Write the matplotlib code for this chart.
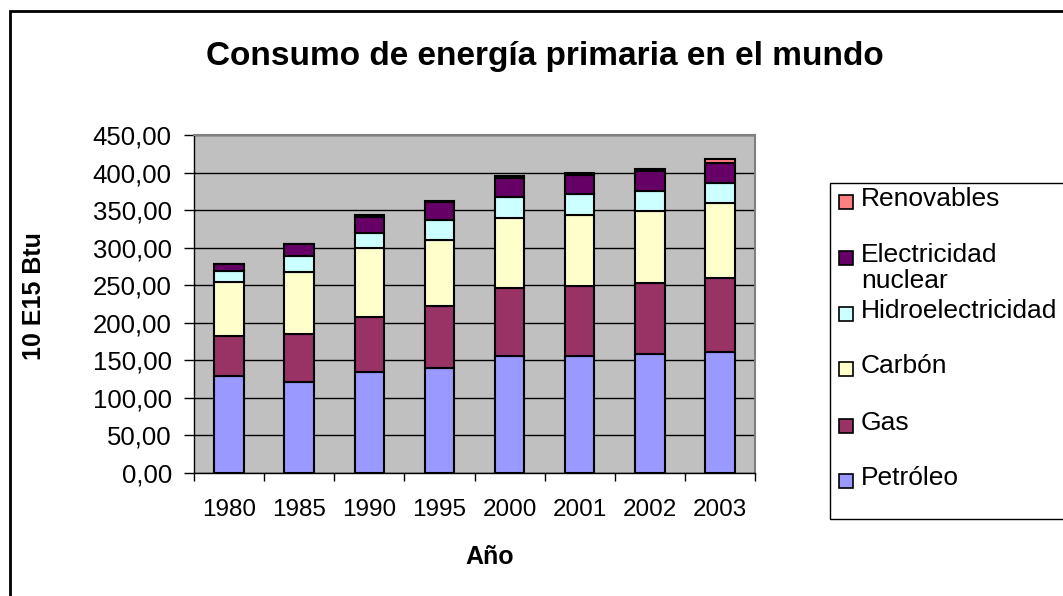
import matplotlib
matplotlib.use("Agg")
import matplotlib.pyplot as plt
from matplotlib.patches import Rectangle
import numpy as np

plt.rcParams['font.family'] = ['Liberation Sans', 'DejaVu Sans']

# Datos (10 E15 Btu)
years = ['1980', '1985', '1990', '1995', '2000', '2001', '2002', '2003']
petroleo = [129, 121, 134, 140, 156, 156, 158, 161.5]
gas = [54, 64, 74, 83, 90, 93, 95, 98]
carbon = [71, 82, 91, 87, 93, 95, 96, 100.5]
hidro = [15.5, 22, 21, 26.5, 28, 27, 26.5, 26.5]
nuclear = [8.5, 15.5, 21, 24, 26, 26, 26.5, 26.5]
renovables = [0.5, 0.5, 2.5, 1, 2, 3, 3, 5.5]

series = [petroleo, gas, carbon, hidro, nuclear, renovables]
names = ['Petróleo', 'Gas', 'Carbón', 'Hidroelectricidad',
         'Electricidad\nnuclear', 'Renovables']
colors = ['#9999FF', '#993366', '#FFFFCC', '#CCFFFF', '#660066', '#FF8080']

W, H = 1063, 596
fig = plt.figure(figsize=(W / 100, H / 100), dpi=100)
ax = fig.add_axes([194 / W, 1 - 473 / H, (755 - 194) / W, (473 - 135) / H])
ax.set_facecolor('#C0C0C0')

x = np.arange(len(years))
bottom = np.zeros(len(years))
for vals, c in zip(series, colors):
    ax.bar(x, vals, 0.42, bottom=bottom, color=c, edgecolor='black',
           linewidth=1.5, zorder=3)
    bottom += np.array(vals)

ax.set_ylim(0, 450)
ax.set_xlim(-0.5, len(years) - 0.5)
yt = np.arange(0, 451, 50)
ax.set_yticks(yt)
ax.set_yticklabels([f"{v:.2f}".replace('.', ',') for v in yt], fontsize=18.5)
ax.yaxis.grid(True, color='black', linewidth=1, zorder=1)
ax.set_axisbelow(True)

ax.set_xticks(x)
ax.set_xticklabels(years, fontsize=17.5)
ax.set_xticks(np.arange(-0.5, len(years)), minor=True)
ax.tick_params(axis='x', which='major', length=0, pad=19)
ax.tick_params(axis='x', which='minor', length=6, width=1, direction='out')
ax.tick_params(axis='y', length=7, width=1, pad=9)

for s in ['top', 'right']:
    ax.spines[s].set_color('#808080')
    ax.spines[s].set_linewidth(1.5)
for s in ['left', 'bottom']:
    ax.spines[s].set_color('black')
    ax.spines[s].set_linewidth(1)

# Titulos
fig.text(545 / W, 1 - 56 / H, 'Consumo de energía primaria en el mundo',
         fontsize=24, fontweight='bold', ha='center', va='center')
fig.text(490 / W, 1 - 557 / H, 'Año', fontsize=18, fontweight='bold',
         ha='center', va='center')
fig.text(34 / W, 1 - 296 / H, '10 E15 Btu', fontsize=18, fontweight='bold',
         rotation=90, ha='center', va='center')

# Marco exterior del grafico
fig.patches.append(Rectangle((10 / W, -0.02), 1.05, 1 - 11 / H + 0.02,
                             transform=fig.transFigure, fill=False,
                             edgecolor='black', linewidth=2))

# Leyenda manual
fig.patches.append(Rectangle((830 / W, 1 - 519 / H), 0.3, (519 - 183) / H,
                             transform=fig.transFigure, fill=False,
                             edgecolor='black', linewidth=1))
legend_y = [201, 257, 313, 368, 425, 480]
for name, c, yy in zip(names[::-1], colors[::-1], legend_y):
    fig.patches.append(Rectangle((839 / W, 1 - (yy + 8) / H), 14 / W, 14 / H,
                                 transform=fig.transFigure, facecolor=c,
                                 edgecolor='black', linewidth=1.2))
    fig.text(861 / W, 1 - (yy - 14) / H, name, fontsize=19, ha='left',
             va='top', linespacing=1.1)

fig.savefig('out.png', dpi=100)
